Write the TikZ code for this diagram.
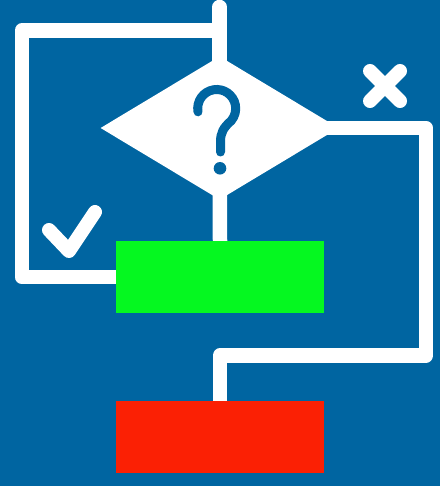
\documentclass[tikz,border=0pt]{standalone}
\usetikzlibrary{shapes.geometric}
\definecolor{bgblue}{RGB}{0,101,161}
\definecolor{boxgreen}{RGB}{5,248,32}
\definecolor{boxred}{RGB}{251,32,4}
\tikzset{
  conn/.style={draw=white, line width=14.5pt, line join=round},
  symstroke/.style={draw=white, line width=14pt, line cap=round, line join=round},
  qmark/.style={draw=bgblue, line width=9pt, line cap=round},
  actbox/.style={rectangle, fill=#1, draw=none, minimum width=208pt, minimum height=72pt, inner sep=0pt, outer sep=0pt},
  decision/.style={diamond, fill=white, draw=none, inner sep=0pt, outer sep=0pt, minimum width=238pt, minimum height=143pt, aspect=1.664}
}
\begin{document}
\begin{tikzpicture}[x=1pt,y=-1pt]
\fill[bgblue] (0,0) rectangle (440,486);
\useasboundingbox (0,0) rectangle (440,486);
% nodes
\node[decision] (dia) at (219.6,128) {};
\node[actbox=boxgreen] (yes) at (220,277) {};
\node[actbox=boxred] (no) at (220,437) {};
% coordinates
\coordinate (top) at (219.6,7);
\coordinate (join) at (219.6,30.5);
\coordinate (lc) at (21.8,30.5);
\coordinate (rc) at (426,355.5);
% connectors (started from the diamond centre so they merge with its white fill)
\draw[conn, line cap=round] (top) -- (dia.center);
\draw[conn] (join) -- (lc) |- (yes.west);
\draw[conn] (dia.center) -- (yes.north);
\draw[conn] (dia.center) -| (rc) -| (no.north);
% redraw boxes on top
\fill[boxgreen] (yes.south west) rectangle (yes.north east);
\fill[boxred] (no.south west) rectangle (no.north east);
% check mark
\draw[symstroke] (49,230) -- (69,251) -- (95,212);
% cross
\draw[symstroke] (370,71) -- (400,101);
\draw[symstroke] (400,71) -- (370,101);
% question mark
\draw[qmark] (216.7,108.5) ++(170:19) arc[start angle=170, end angle=400, radius=19]
  .. controls (223,128) and (220.5,133) .. (220.5,142) -- (220.5,152);
\fill[bgblue] (220,168.3) circle (6.3);
\end{tikzpicture}
\end{document}
